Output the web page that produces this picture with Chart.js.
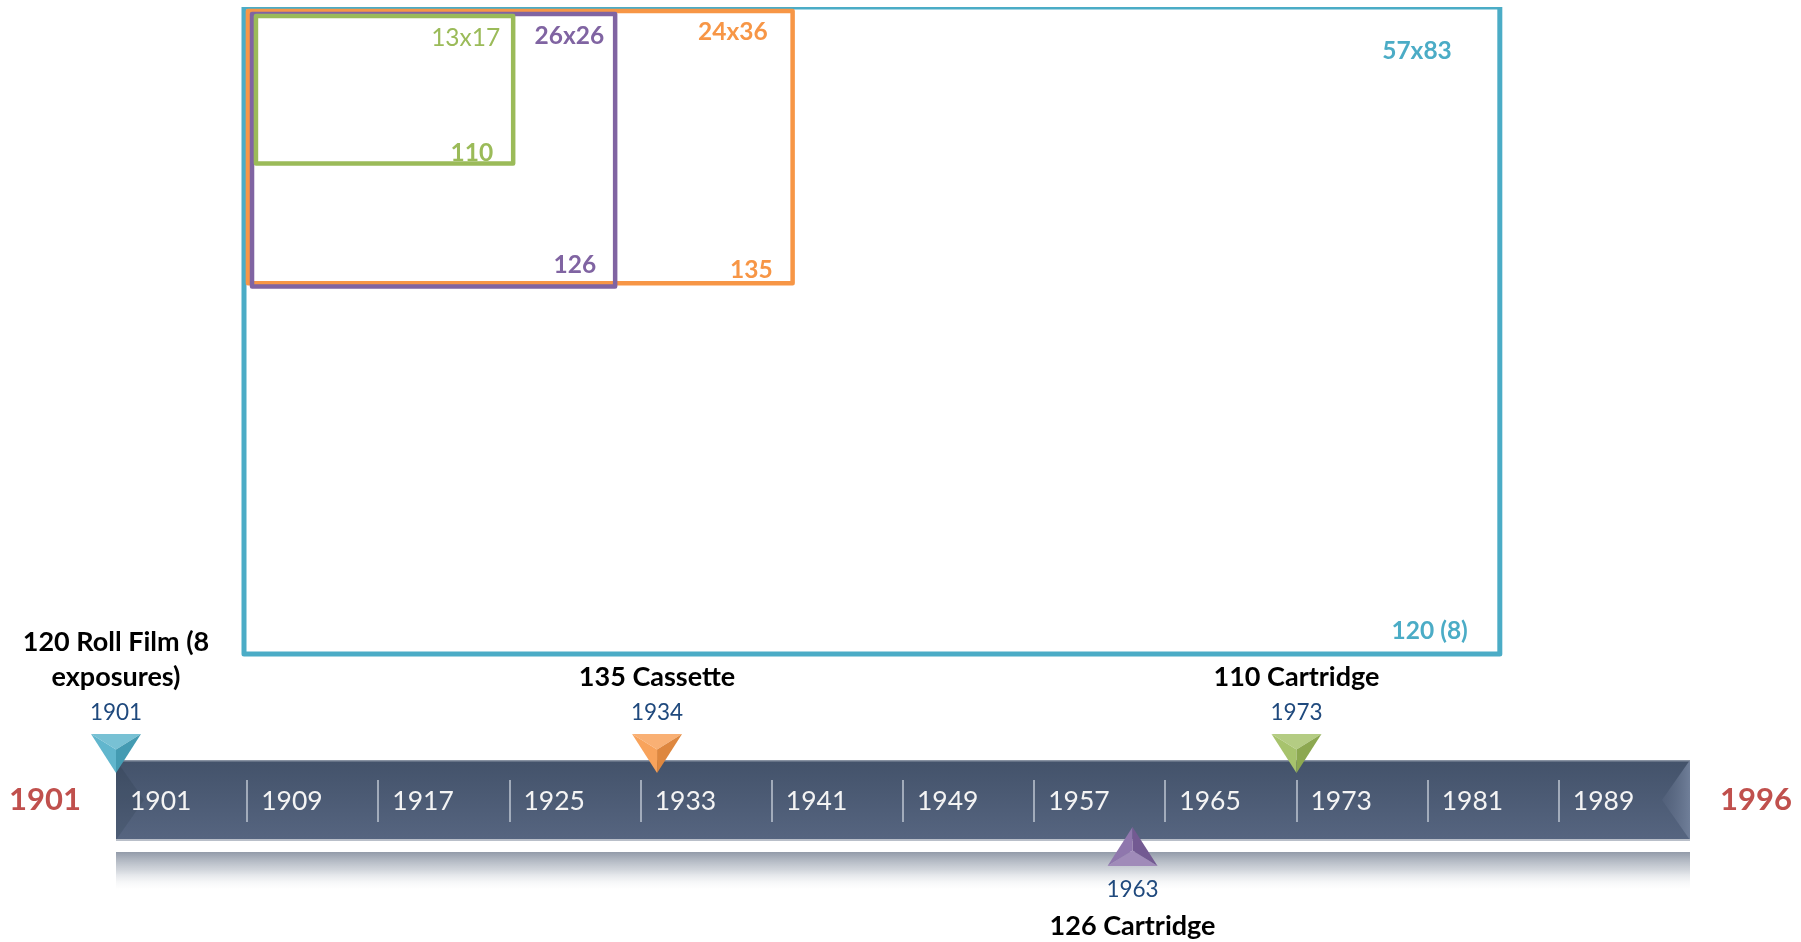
<!DOCTYPE html>
<html>
<head>
<meta charset="utf-8">
<title>Film formats timeline</title>
<script src="https://cdn.jsdelivr.net/npm/chart.js@4.4.1/dist/chart.umd.min.js"></script>
<style>
  html, body { margin: 0; padding: 0; background: #fff; }
  #chart { display: block; }
</style>
</head>
<body>
<canvas id="chart" width="1801" height="942"></canvas>
<script>
// Frame sizes (mm), all drawn from the same top-left corner
const frameFormats = ['120 (8)', '135', '126', '110'];
const frameSizes = ['57x83', '24x36', '26x26', '13x17'];
const frameWidths = [83, 36, 24, 17];
const frameHeights = [57, 24, 24, 13];

// Timeline events
const eventYears = [1901, 1934, 1963, 1973];
const eventNames = [['120 Roll Film (8', 'exposures)'], ['135 Cassette'], ['126 Cartridge'], ['110 Cartridge']];
const eventSide = [1, 1, -1, 1]; // 1 = above the bar, -1 = below
const tickYears = [1901, 1909, 1917, 1925, 1933, 1941, 1949, 1957, 1965, 1973, 1981, 1989];
const startYear = 1901;
const endYear = 1996;

// Styles
const FONT = "Lato, 'Open Sans', sans-serif";
const frameColors = ['#4bacc6', '#f79646', '#8064a2', '#9bbb59'];
const eventColors = ['#4bacc6', '#f79646', '#8064a2', '#9bbb59'];
const frameLineWidths = [5, 4.5, 4.5, 4.5];
const frameInset = [[0, 0], [0.26, 0.35], [0.53, 0.62], [0.79, 0.79]]; // mm, so nested lines don't overlap
const topBold = [true, true, true, false];
// label insets in px from the box corner: [from right, from top/bottom]
const topLabelInset = [[48, 44], [25, 21], [11, 22], [13, 22]];
const bottomLabelInset = [[32, 23], [20, 13], [19, 21], [20, 10]];

// mix a hex colour with white (amt > 0) or black (amt < 0)
function shade(hex, amt) {
  const n = parseInt(hex.slice(1), 16);
  let r = n >> 16, g = (n >> 8) & 255, b = n & 255;
  const t = amt > 0 ? 255 : 0;
  const a = Math.abs(amt);
  r = Math.round(r + (t - r) * a);
  g = Math.round(g + (t - g) * a);
  b = Math.round(b + (t - b) * a);
  return `rgb(${r},${g},${b})`;
}

// Frame rectangles as closed line datasets
const frameDatasets = frameWidths.map((w, i) => {
  const x0 = frameInset[i][0], y0 = frameInset[i][1];
  const x1 = x0 + w, y1 = y0 + frameHeights[i];
  return {
    label: frameFormats[i],
    type: 'line',
    data: [{ x: x0, y: y0 }, { x: x1, y: y0 }, { x: x1, y: y1 }, { x: x0, y: y1 }, { x: x0, y: y0 }],
    xAxisID: 'xmm',
    yAxisID: 'ymm',
    borderColor: frameColors[i],
    borderWidth: frameLineWidths[i],
    borderJoinStyle: 'round',
    borderCapStyle: 'round',
    pointRadius: 0,
    tension: 0,
    fill: false,
    order: 10 - i // smaller frames on top
  };
});

const markerDataset = {
  label: 'events',
  type: 'scatter',
  data: eventYears.map((yr, i) => ({ x: yr, y: eventSide[i] * 0.675 })),
  xAxisID: 'x',
  yAxisID: 'y',
  pointRadius: 0,
  order: 0
};

// Timeline bar, ticks and labels
const timelinePlugin = {
  id: 'timeline',
  beforeDatasetsDraw(chart) {
    const ctx = chart.ctx;
    const xs = chart.scales.x, ys = chart.scales.y;
    const left = xs.getPixelForValue(startYear);
    const right = xs.getPixelForValue(xs.max);
    const top = ys.getPixelForValue(1);
    const bottom = ys.getPixelForValue(-1);
    const mid = ys.getPixelForValue(0);

    ctx.save();
    // reflection under the bar
    const rTop = ys.getPixelForValue(-1.3);
    const rBot = ys.getPixelForValue(-2.3);
    const rg = ctx.createLinearGradient(0, rTop, 0, rBot);
    rg.addColorStop(0, 'rgba(140,149,164,0.95)');
    rg.addColorStop(0.45, 'rgba(190,196,205,0.7)');
    rg.addColorStop(1, 'rgba(255,255,255,0)');
    ctx.fillStyle = rg;
    ctx.fillRect(left, rTop, right - left, rBot - rTop);

    // bar body
    const g = ctx.createLinearGradient(0, top, 0, bottom);
    g.addColorStop(0, '#43526a');
    g.addColorStop(1, '#566580');
    ctx.fillStyle = g;
    ctx.fillRect(left, top, right - left, bottom - top);

    // darker left end
    ctx.fillStyle = 'rgba(20,30,45,0.12)';
    ctx.beginPath();
    ctx.moveTo(left, top);
    ctx.lineTo(left + 28, mid);
    ctx.lineTo(left, bottom);
    ctx.closePath();
    ctx.fill();

    // lighter chevron on the right end
    const cg = ctx.createLinearGradient(right - 30, 0, right, 0);
    cg.addColorStop(0, 'rgba(90,104,130,0.3)');
    cg.addColorStop(1, 'rgba(112,127,153,1)');
    ctx.fillStyle = cg;
    ctx.beginPath();
    ctx.moveTo(right - 28, mid);
    ctx.lineTo(right, top);
    ctx.lineTo(right, bottom);
    ctx.closePath();
    ctx.fill();

    // edges
    ctx.fillStyle = '#8791a1';
    ctx.fillRect(left, top, right - left, 1.5);
    ctx.fillStyle = '#b9bfc9';
    ctx.fillRect(left, bottom - 1, right - left, 2);

    // separators and tick labels
    ctx.font = `26.5px ${FONT}`;
    ctx.textBaseline = 'middle';
    ctx.textAlign = 'left';
    tickYears.forEach((yr, i) => {
      const px = xs.getPixelForValue(yr);
      if (i > 0) {
        ctx.fillStyle = 'rgba(190,198,210,0.75)';
        ctx.fillRect(Math.round(px) - 1, ys.getPixelForValue(0.5), 2, ys.getPixelForValue(-0.55) - ys.getPixelForValue(0.5));
      }
      ctx.fillStyle = '#f4f4f4';
      ctx.fillText(String(yr), px + 14, mid + 1);
    });

    // start and end years
    ctx.font = `bold 31px ${FONT}`;
    ctx.fillStyle = '#c0504d';
    ctx.textAlign = 'right';
    ctx.fillText(String(startYear), left - 35, mid);
    ctx.textAlign = 'left';
    ctx.fillText(String(endYear), right + 30, mid);

    // frame size labels (drawn under the frame lines)
    const xm = chart.scales.xmm, ym = chart.scales.ymm;
    frameWidths.forEach((w, i) => {
      const rx = xm.getPixelForValue(frameInset[i][0] + w);
      const ty = ym.getPixelForValue(frameInset[i][1]);
      const by = ym.getPixelForValue(frameInset[i][1] + frameHeights[i]);
      ctx.fillStyle = frameColors[i];
      ctx.textAlign = 'right';
      ctx.font = `${topBold[i] ? 'bold ' : ''}24.5px ${FONT}`;
      ctx.fillText(frameSizes[i], rx - topLabelInset[i][0], ty + topLabelInset[i][1]);
      ctx.font = `bold 24.5px ${FONT}`;
      ctx.fillText(frameFormats[i], rx - bottomLabelInset[i][0], by - bottomLabelInset[i][1]);
    });
    ctx.restore();
  },
  afterDatasetsDraw(chart) {
    const ctx = chart.ctx;
    const ys = chart.scales.y;
    const meta = chart.getDatasetMeta(chart.data.datasets.length - 1);
    ctx.save();
    meta.data.forEach((pt, i) => {
      const side = eventSide[i];
      const col = eventColors[i];
      const tipX = pt.x, tipY = pt.y;
      const baseY = tipY - side * 39;
      const hw = 25;
      const cx = tipX, cy = baseY + (tipY - baseY) * 0.4;
      // three facets for a bevelled look
      ctx.fillStyle = shade(col, 0.25);
      ctx.beginPath();
      ctx.moveTo(tipX - hw, baseY); ctx.lineTo(tipX + hw, baseY); ctx.lineTo(cx, cy); ctx.closePath(); ctx.fill();
      ctx.fillStyle = shade(col, 0.12);
      ctx.beginPath();
      ctx.moveTo(tipX - hw, baseY); ctx.lineTo(cx, cy); ctx.lineTo(tipX, tipY); ctx.closePath(); ctx.fill();
      ctx.fillStyle = shade(col, -0.1);
      ctx.beginPath();
      ctx.moveTo(tipX + hw, baseY); ctx.lineTo(cx, cy); ctx.lineTo(tipX, tipY); ctx.closePath(); ctx.fill();

      // year and name
      ctx.textAlign = 'center';
      ctx.textBaseline = 'middle';
      ctx.font = `22.5px ${FONT}`;
      ctx.fillStyle = '#1f497d';
      ctx.fillText(String(eventYears[i]), tipX, ys.getPixelForValue(side > 0 ? 2.17 : -2.25));
      ctx.font = `bold 27px ${FONT}`;
      ctx.fillStyle = '#000';
      const lines = eventNames[i];
      if (side > 0) {
        const lastY = ys.getPixelForValue(3.08);
        lines.forEach((ln, k) => ctx.fillText(ln, tipX, lastY - (lines.length - 1 - k) * 35));
      } else {
        const firstY = ys.getPixelForValue(-3.15);
        lines.forEach((ln, k) => ctx.fillText(ln, tipX, firstY + k * 35));
      }
    });
    ctx.restore();
  }
};

new Chart(document.getElementById('chart'), {
  type: 'scatter',
  data: { datasets: [...frameDatasets, markerDataset] },
  options: {
    responsive: false,
    animation: false,
    layout: { padding: { left: 116, right: 111, top: 7, bottom: 0 } },
    plugins: { legend: { display: false }, tooltip: { enabled: false } },
    scales: {
      x: { type: 'linear', min: 1901, max: 1997, display: false },
      y: { type: 'linear', min: -3.55, max: 19.825, display: false },
      xmm: { type: 'linear', axis: 'x', min: -8.46, max: 95.57, display: false },
      ymm: { type: 'linear', axis: 'y', reverse: true, min: 0, max: 82.38, display: false }
    }
  },
  plugins: [timelinePlugin]
});
</script>
</body>
</html>
